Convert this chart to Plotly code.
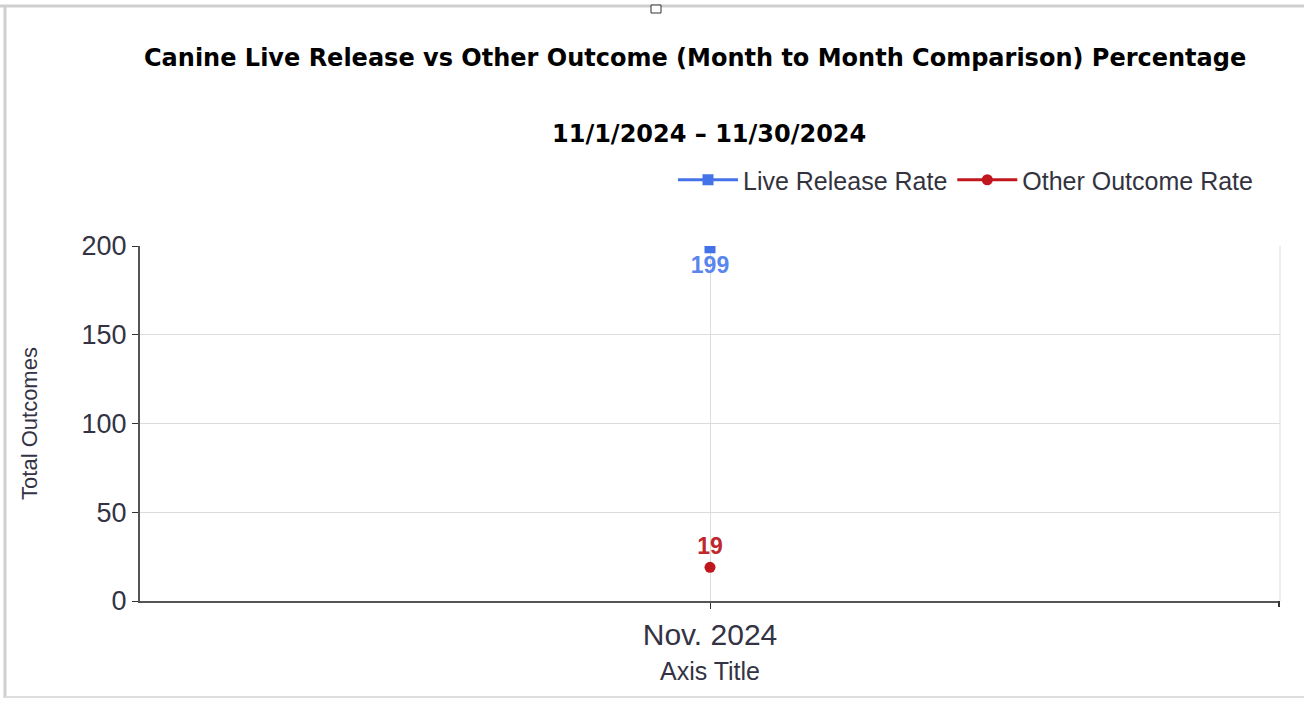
import plotly.graph_objects as go

categories = ["Nov. 2024"]
live_release = [199]
other_outcome = [19]
y_ticks = [0, 50, 100, 150, 200]

W, H = 1304, 710
L, R, T, B = 140, 1280, 246, 601

def px(p):
    return (p - L) / (R - L)

def py(p):
    return (B - p) / (B - T)

fig = go.Figure()
fig.add_trace(go.Scatter(
    x=categories, y=live_release, name="Live Release Rate",
    mode="lines+markers+text", text=["<b>%d</b>" % v for v in live_release],
    textposition="bottom center",
    textfont=dict(family="Liberation Sans", size=23, color="#5a85ee"),
    line=dict(color="#4472e8", width=3),
    marker=dict(symbol="square", size=11, color="#4472e8"),
))
fig.add_trace(go.Scatter(
    x=categories, y=other_outcome, name="Other Outcome Rate",
    mode="lines+markers+text", text=["<b>%d</b>" % v for v in other_outcome],
    textposition="top center",
    textfont=dict(family="Liberation Sans", size=23, color="#c0272d"),
    line=dict(color="#c0171e", width=3),
    marker=dict(symbol="circle", size=11, color="#c0171e"),
))

fig.update_layout(
    width=W, height=H,
    margin=dict(l=L, r=W - R, t=T, b=H - B),
    paper_bgcolor="white", plot_bgcolor="white",
    font=dict(family="Liberation Sans", color="#333344"),
    showlegend=True,
    legend=dict(orientation="h", x=px(1258), xanchor="right", y=py(180), yanchor="middle",
                font=dict(size=25, color="#333340"), bgcolor="rgba(0,0,0,0)",
                traceorder="normal", itemwidth=60, entrywidthmode="pixels"),
    xaxis=dict(type="category", range=[-0.5, 0.5], showgrid=True, gridcolor="#dcdcdc",
               gridwidth=1, showline=True, linecolor="#555555", linewidth=2,
               ticks="outside", ticklen=6, tickcolor="#333333",
               tickfont=dict(size=30, color="#333344"),
               title=dict(text="Axis Title", font=dict(size=25, color="#333344"), standoff=12),
               zeroline=False, fixedrange=True),
    yaxis=dict(range=[0, 200], tickvals=y_ticks, showgrid=True, gridcolor="#dcdcdc",
               showline=True, linecolor="#555555", linewidth=2,
               ticks="outside", ticklen=6, tickcolor="#333333",
               tickfont=dict(size=27, color="#333344"),
               title=dict(text="Total Outcomes", font=dict(size=22, color="#333344"), standoff=38),
               zeroline=False, fixedrange=True),
)

title_font = dict(family="DejaVu Sans", size=24, color="#000000")
fig.add_annotation(text="<b>Canine Live Release vs Other Outcome (Month to Month Comparison) Percentage</b>",
                   xref="paper", yref="paper", x=px(695), y=py(58), showarrow=False,
                   xanchor="center", yanchor="middle", font=title_font)
fig.add_annotation(text="<b>11/1/2024 – 11/30/2024</b>",
                   xref="paper", yref="paper", x=px(709), y=py(134), showarrow=False,
                   xanchor="center", yanchor="middle", font=title_font)

# right-side light plot border and end tick
fig.add_shape(type="line", xref="paper", yref="paper", x0=1, x1=1, y0=0, y1=1,
              line=dict(color="#dcdcdc", width=1))
fig.add_shape(type="line", xref="paper", yref="paper", x0=px(1279), x1=px(1279), y0=0, y1=py(607),
              line=dict(color="#333333", width=2))

# outer frame of the screenshot
frame = dict(color="#cfcfcf", width=3)
fig.add_shape(type="line", xref="paper", yref="paper", x0=px(0), x1=px(1304), y0=py(6), y1=py(6), line=frame)
fig.add_shape(type="line", xref="paper", yref="paper", x0=px(5), x1=px(5), y0=py(6), y1=py(698), line=frame)
fig.add_shape(type="line", xref="paper", yref="paper", x0=px(5), x1=px(1304), y0=py(697), y1=py(697),
              line=dict(color="#dddddd", width=2))
fig.add_shape(type="rect", xref="paper", yref="paper", x0=px(651), x1=px(661), y0=py(5), y1=py(13),
              line=dict(color="#333333", width=1), fillcolor="white")

fig.write_html("out.html", config={"displayModeBar": False},
               post_script="document.body.style.margin='0px';")
